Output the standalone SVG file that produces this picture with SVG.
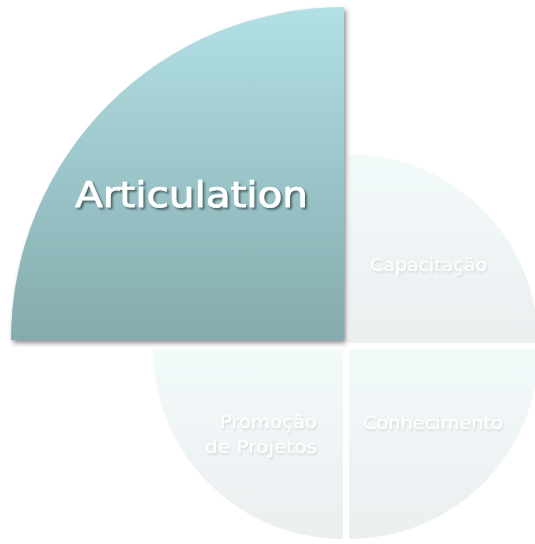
<svg xmlns="http://www.w3.org/2000/svg" width="535" height="544" viewBox="0 0 535 544">
<defs>
<linearGradient id="gBig" x1="0" y1="0" x2="0" y2="1">
<stop offset="0" stop-color="#B2E0E4"/>
<stop offset="1" stop-color="#84ABAE"/>
</linearGradient>
<linearGradient id="gSmall" x1="0" y1="0" x2="0" y2="1">
<stop offset="0" stop-color="#F3FAFA"/>
<stop offset="1" stop-color="#EAEFF0"/>
</linearGradient>
<filter id="shadow" x="-10%" y="-10%" width="125%" height="125%">
<feGaussianBlur in="SourceAlpha" stdDeviation="2.5"/>
<feOffset dx="2" dy="3" result="b"/>
<feComponentTransfer><feFuncA type="linear" slope="0.45"/></feComponentTransfer>
<feMerge><feMergeNode/><feMergeNode in="SourceGraphic"/></feMerge>
</filter>
<filter id="tshadow" x="-10%" y="-30%" width="130%" height="160%">
<feGaussianBlur in="SourceAlpha" stdDeviation="1"/>
<feOffset dx="1.5" dy="2" result="b"/>
<feComponentTransfer><feFuncA type="linear" slope="0.5"/></feComponentTransfer>
<feMerge><feMergeNode/><feMergeNode in="SourceGraphic"/></feMerge>
</filter>
<filter id="tshadowS" x="-10%" y="-30%" width="130%" height="160%">
<feGaussianBlur in="SourceAlpha" stdDeviation="0.8"/>
<feOffset dx="1" dy="1.5" result="b"/>
<feComponentTransfer><feFuncA type="linear" slope="0.12"/></feComponentTransfer>
<feMerge><feMergeNode/><feMergeNode in="SourceGraphic"/></feMerge>
</filter>
</defs>
<style>
.small{fill:url(#gSmall);}
.lbl{font-family:"DejaVu Sans","Liberation Sans",sans-serif;fill:#FFFFFF;}
.sl{font-size:17px;filter:url(#tshadowS);}
.bl{font-size:35px;filter:url(#tshadow);stroke:#FFFFFF;stroke-width:0.7px;}
</style>
<g id="node-capacitacao">
<path class="small" d="M349 343 L349 154 A189 189 0 0 1 538 343 Z"/>
<text class="lbl sl" x="428.5" y="271" text-anchor="middle" textLength="117" lengthAdjust="spacingAndGlyphs">Capacitação</text>
</g>
<g id="node-conhecimento">
<path class="small" d="M349 349 L539 349 A190 190 0 0 1 349 539 Z"/>
<text class="lbl sl" x="433" y="429" text-anchor="middle" textLength="140" lengthAdjust="spacingAndGlyphs">Conhecimento</text>
</g>
<g id="node-promocao">
<path class="small" d="M343 349 L343 539 A190 190 0 0 1 153 349 Z"/>
<text class="lbl sl" text-anchor="end"><tspan x="317" y="428" textLength="97" lengthAdjust="spacingAndGlyphs">Promoção</tspan><tspan x="317" y="453" textLength="112" lengthAdjust="spacingAndGlyphs">de Projetos</tspan></text>
</g>
<g id="node-articulation">
<path d="M344 340 L11 340 A333 333 0 0 1 344 7 Z" fill="url(#gBig)" filter="url(#shadow)"/>
<text class="lbl bl" x="191.5" y="207" text-anchor="middle" textLength="233" lengthAdjust="spacingAndGlyphs">Articulation</text>
</g>
</svg>
